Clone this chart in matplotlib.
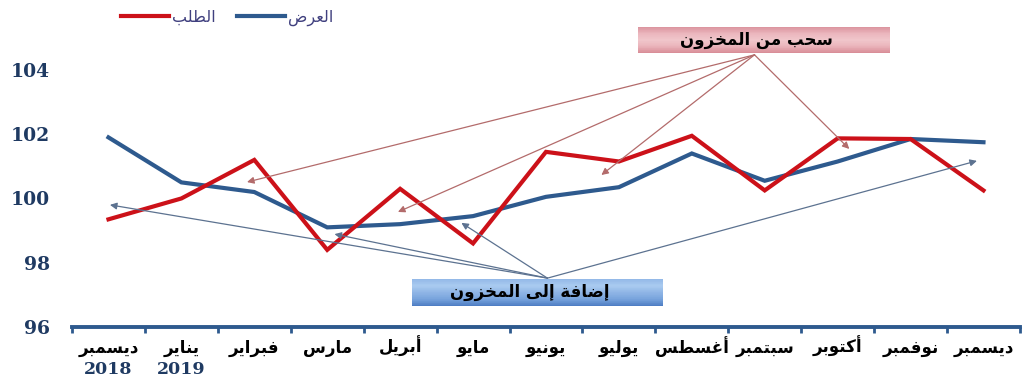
import numpy as np
import matplotlib
matplotlib.use('Agg')
import matplotlib.pyplot as plt
from matplotlib.lines import Line2D

# monthly supply / demand indices
months = ['ديسمبر', 'يناير', 'فبراير', 'مارس', 'أبريل', 'مايو', 'يونيو',
          'يوليو', 'أغسطس', 'سبتمبر', 'أكتوبر', 'نوفمبر', 'ديسمبر']
years = ['2018', '2019']
supply = [101.9, 100.5, 100.2, 99.1, 99.2, 99.45, 100.05, 100.35, 101.4,
          100.55, 101.15, 101.85, 101.75]
demand = [99.35, 100.0, 101.2, 98.4, 100.3, 98.6, 101.45, 101.15, 101.95,
          100.25, 101.87, 101.85, 100.25]
yticks = [96, 98, 100, 102, 104]

lbl_supply = 'العرض'
lbl_demand = 'الطلب'
lbl_draw = 'سحب من المخزون'
lbl_add = 'إضافة إلى المخزون'

# arrow targets (x index, value)
draw_src = (8.86, 104.47)
draw_pts = [(1.90, 100.51), (3.97, 99.58), (6.76, 100.73), (10.16, 101.54)]
add_src = (6.02, 97.52)
add_pts = [(0.02, 99.80), (3.10, 98.89), (4.84, 99.24), (11.91, 101.17)]

# --- minimal arabic shaping (presentation forms B, visual order) ---
_base = 'ءآأؤإئابةتثجحخدذرزسشصضطظعغفقكلمنهوىي'
_nf = [1, 2, 2, 2, 2, 4, 2, 4, 2, 4, 4, 4, 4, 4, 2, 2, 2, 2, 4, 4, 4, 4, 4,
       4, 4, 4, 4, 4, 4, 4, 4, 4, 4, 2, 2, 4]
FORMS = {}
code = 0xFE80
for ch, n in zip(_base, _nf):
    FORMS[ch] = [chr(code + k) for k in range(n)]
    code += n


def ar(s):
    out = []
    for i, c in enumerate(s):
        if c not in FORMS:
            out.append(c)
            continue
        f = FORMS[c]
        prev = s[i - 1] if i > 0 else ''
        nxt = s[i + 1] if i + 1 < len(s) else ''
        jp = prev in FORMS and len(FORMS[prev]) == 4
        jn = len(f) == 4 and nxt in FORMS and nxt != 'ء'
        if jp and jn:
            out.append(f[3])
        elif jp:
            out.append(f[1] if len(f) > 1 else f[0])
        elif jn:
            out.append(f[2])
        else:
            out.append(f[0])
    return ''.join(reversed(out))


red = '#CC1119'
blue = '#2E5A8E'
navy = '#1F3A62'

fig = plt.figure(figsize=(10.23, 3.78), dpi=100)
ax = fig.add_axes([0.0704, 0.135, 0.9266, 0.765])

x = np.arange(len(months))
ax.plot(x, supply, color=blue, lw=3.0, solid_joinstyle='miter', zorder=3)
ax.plot(x, demand, color=red, lw=3.0, solid_joinstyle='miter', zorder=3)

ax.set_xlim(-0.5, len(months) - 0.5)
ax.set_ylim(96, 105)
ax.set_yticks(yticks)
ax.set_yticklabels([str(v) for v in yticks], fontfamily='DejaVu Serif',
                   fontweight='bold', fontsize=13.5, color=navy)
ax.tick_params(axis='y', length=0, pad=16)

ax.set_xticks(x)
ax.set_xticklabels([ar(m) for m in months], fontweight='bold', fontsize=12,
                   color='black')
for t in ax.get_xticklabels():
    t.set_va('baseline')
ax.set_xticks(np.arange(-0.5, len(months)), minor=True)
ax.tick_params(axis='x', which='major', length=0, pad=19)
ax.tick_params(axis='x', which='minor', length=4, width=2, color=blue,
               direction='out')

for s in ['left', 'top', 'right']:
    ax.spines[s].set_visible(False)
ax.spines['bottom'].set_color(blue)
ax.spines['bottom'].set_linewidth(2.8)

for i, yr in enumerate(years):
    ax.text(i, -0.118, yr, transform=ax.get_xaxis_transform(), ha='center',
            va='top', fontfamily='DejaVu Serif', fontweight='bold',
            fontsize=12.5, color=navy)

# arrows
for p in draw_pts:
    ax.annotate('', xy=p, xytext=draw_src,
                arrowprops=dict(arrowstyle='-|>', color='#B36B6B', lw=0.9,
                                mutation_scale=10, shrinkA=0, shrinkB=0),
                zorder=4, annotation_clip=False)
for p in add_pts:
    ax.annotate('', xy=p, xytext=add_src,
                arrowprops=dict(arrowstyle='-|>', color='#5C7290', lw=0.9,
                                mutation_scale=10, shrinkA=0, shrinkB=0),
                zorder=4, annotation_clip=False)

# gradient boxes, built from thin horizontal bands
def grad_box(rect, cols, text):
    bax = fig.add_axes(rect)
    cmap = matplotlib.colors.LinearSegmentedColormap.from_list('g', cols)
    n = 40
    for k in range(n):
        bax.axhspan(1 - (k + 1) / n, 1 - k / n, color=cmap(k / (n - 1)),
                    lw=0)
    bax.set_xlim(0, 1)
    bax.set_ylim(0, 1)
    bax.axis('off')
    bax.text(0.47, 0.5, ar(text), ha='center', va='center', fontsize=12,
             fontweight='bold', color='black')

grad_box([0.6237, 0.8598, 0.2463, 0.0688],
         ['#DC96A0', '#EBB6BD', '#F0C6CB', '#EAB4BB', '#D98E98'], lbl_draw)
grad_box([0.4027, 0.1905, 0.2454, 0.0714],
         ['#94B9E8', '#AACBF0', '#8FB5E5', '#77A3DC', '#4F7EC4'], lbl_add)

# legend
handles = [Line2D([], [], color=red, lw=3.0), Line2D([], [], color=blue, lw=3.0)]
leg = fig.legend(handles, [ar(lbl_demand), ar(lbl_supply)], ncol=2,
                 loc='center', bbox_to_anchor=(0.222, 0.952), frameon=False,
                 handlelength=3.0, handletextpad=0.2, columnspacing=1.3,
                 prop={'size': 11.5})
for t in leg.get_texts():
    t.set_color('#40407F')

fig.savefig('out.png', dpi=100)
